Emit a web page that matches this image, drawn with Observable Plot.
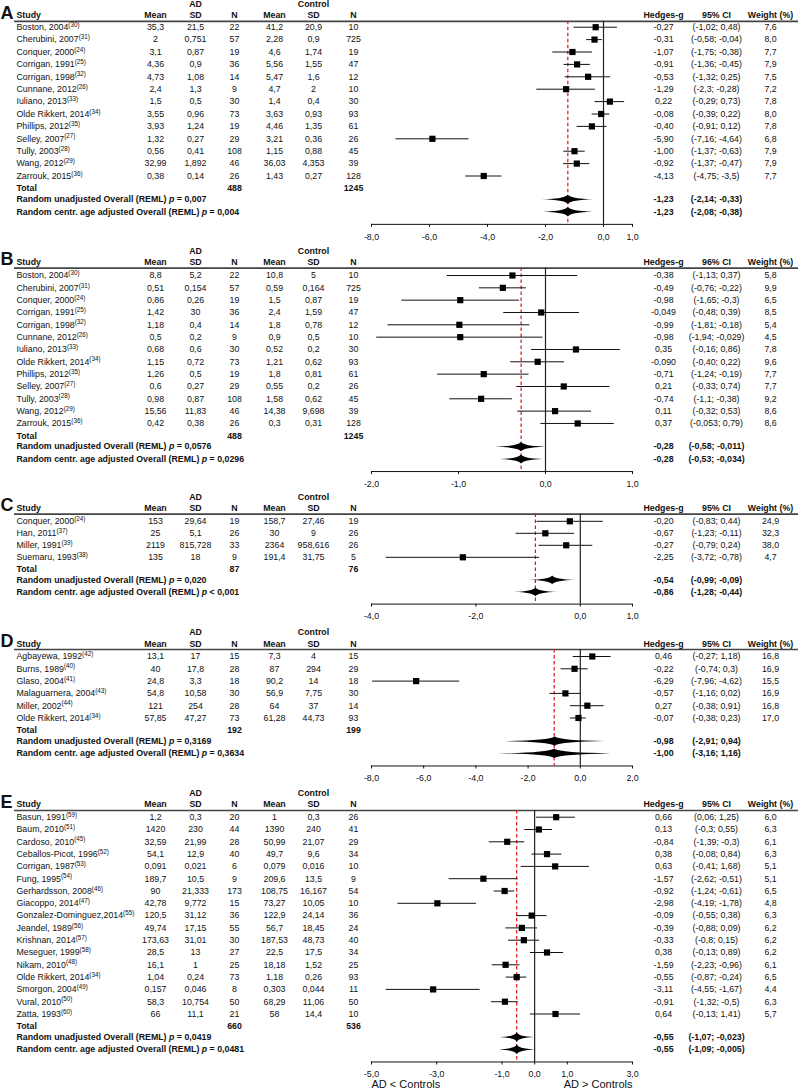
<!DOCTYPE html>
<html><head><meta charset="utf-8">
<script src="https://cdn.jsdelivr.net/npm/d3@7"></script>
<script src="https://cdn.jsdelivr.net/npm/@observablehq/plot@0.6"></script>
<style>
body{margin:0;background:#fff;}
#chart{width:799px;}
#chart svg{display:block;}
</style></head><body><div id="chart"></div>
<script>
// ---------- Panel A ----------
const studyA = ["Boston, 2004","Cherubini, 2007","Conquer, 2000","Corrigan, 1991","Corrigan, 1998","Cunnane, 2012","Iuliano, 2013","Olde Rikkert, 2014","Phillips, 2012","Selley, 2007","Tully, 2003","Wang, 2012","Zarrouk, 2015"];
const refA = ["30","31","24","25","32","26","33","34","35","27","28","29","36"];
const adMeanA = ["35,3","2","3,1","4,36","4,73","2,4","1,5","3,55","3,93","1,32","0,56","32,99","0,38"];
const adSdA = ["21,5","0,751","0,87","0,9","1,08","1,3","0,5","0,96","1,24","0,27","0,41","1,892","0,14"];
const adNA = ["22","57","19","36","14","9","30","73","19","29","108","46","26"];
const ctMeanA = ["41,2","2,28","4,6","5,56","5,47","4,7","1,4","3,63","4,46","3,21","1,15","36,03","1,43"];
const ctSdA = ["20,9","0,9","1,74","1,55","1,6","2","0,4","0,93","1,35","0,36","0,88","4,353","0,27"];
const ctNA = ["10","725","19","47","12","10","30","93","61","26","45","39","128"];
const gA = ["-0,27","-0,31","-1,07","-0,91","-0,53","-1,29","0,22","-0,08","-0,40","-5,90","-1,00","-0,92","-4,13"];
const loA = ["-1,02","-0,58","-1,75","-1,36","-1,32","-2,3","-0,29","-0,39","-0,91","-7,16","-1,37","-1,37","-4,75"];
const hiA = ["0,48","-0,04","-0,38","-0,45","0,25","-0,28","0,73","0,22","0,12","-4,64","-0,63","-0,47","-3,5"];
const wA = ["7,6","8,0","7,7","7,9","7,5","7,2","7,8","8,0","7,8","6,8","7,9","7,9","7,7"];
const totalA = ["488","1245"];
const pA = ["= 0,007","= 0,004"];
const sumGA = ["-1,23","-1,23"];
const sumLoA = ["-2,14","-2,08"];
const sumHiA = ["-0,33","-0,38"];
const ticksA = [-8,-6,-4,-2,0,1];
const domainA = [-8,1];

// ---------- Panel B ----------
const studyB = studyA;
const refB = refA;
const adMeanB = ["8,8","0,51","0,86","1,42","1,18","0,5","0,68","1,15","1,26","0,6","0,98","15,56","0,42"];
const adSdB = ["5,2","0,154","0,26","30","0,4","0,2","0,6","0,72","0,5","0,27","0,87","11,83","0,38"];
const adNB = ["22","57","19","36","14","9","30","73","19","29","108","46","26"];
const ctMeanB = ["10,8","0,59","1,5","2,4","1,8","0,9","0,52","1,21","1,8","0,55","1,58","14,38","0,3"];
const ctSdB = ["5","0,164","0,87","1,59","0,78","0,5","0,2","0,62","0,81","0,2","0,62","9,698","0,31"];
const ctNB = ["10","725","19","47","12","10","30","93","61","26","45","39","128"];
const gB = ["-0,38","-0,49","-0,98","-0,049","-0,99","-0,98","0,35","-0,090","-0,71","0,21","-0,74","0,11","0,37"];
const loB = ["-1,13","-0,76","-1,65","-0,48","-1,81","-1,94","-0,16","-0,40","-1,24","-0,33","-1,1","-0,32","-0,053"];
const hiB = ["0,37","-0,22","-0,3","0,39","-0,18","-0,029","0,86","0,22","-0,19","0,74","-0,38","0,53","0,79"];
const wB = ["5,8","9,9","6,5","8,5","5,4","4,5","7,8","9,6","7,7","7,7","9,2","8,6","8,6"];
const totalB = ["488","1245"];
const pB = ["= 0,0576","= 0,0296"];
const sumGB = ["-0,28","-0,28"];
const sumLoB = ["-0,58","-0,53"];
const sumHiB = ["-0,011","-0,034"];
const ticksB = [-2,-1,0,1];
const domainB = [-2,1];

// ---------- Panel C ----------
const studyC = ["Conquer, 2000","Han, 2011","Miller, 1991","Suemaru, 1993"];
const refC = ["24","37","39","38"];
const adMeanC = ["153","25","2119","135"];
const adSdC = ["29,64","5,1","815,728","18"];
const adNC = ["19","26","33","9"];
const ctMeanC = ["158,7","30","2364","191,4"];
const ctSdC = ["27,46","9","958,616","31,75"];
const ctNC = ["19","26","26","5"];
const gC = ["-0,20","-0,67","-0,27","-2,25"];
const loC = ["-0,83","-1,23","-0,79","-3,72"];
const hiC = ["0,44","-0,11","0,24","-0,78"];
const wC = ["24,9","32,3","38,0","4,7"];
const totalC = ["87","76"];
const pC = ["= 0,020","< 0,001"];
const sumGC = ["-0,54","-0,86"];
const sumLoC = ["-0,99","-1,28"];
const sumHiC = ["-0,09","-0,44"];
const ticksC = [-4,-2,0,1];
const domainC = [-4,1];

// ---------- Panel D ----------
const studyD = ["Agbayewa, 1992","Burns, 1989","Glaso, 2004","Malaguarnera, 2004","Miller, 2002","Olde Rikkert, 2014"];
const refD = ["42","40","41","43","44","34"];
const adMeanD = ["13,1","40","24,8","54,8","121","57,85"];
const adSdD = ["17","17,8","3,3","10,58","254","47,27"];
const adND = ["15","28","18","30","28","73"];
const ctMeanD = ["7,3","87","90,2","56,9","64","61,28"];
const ctSdD = ["4","294","14","7,75","37","44,73"];
const ctND = ["15","29","18","30","14","93"];
const gD = ["0,46","-0,22","-6,29","-0,57","0,27","-0,07"];
const loD = ["-0,27","-0,74","-7,96","-1,16","-0,38","-0,38"];
const hiD = ["1,18","0,3","-4,62","0,02","0,91","0,23"];
const wD = ["16,8","16,9","15,5","16,9","16,8","17,0"];
const totalD = ["192","199"];
const pD = ["= 0,3169","= 0,3634"];
const sumGD = ["-0,98","-1,00"];
const sumLoD = ["-2,91","-3,16"];
const sumHiD = ["0,94","1,16"];
const ticksD = [-8,-6,-4,-2,0,2];
const domainD = [-8,2];

// ---------- Panel E ----------
const studyE = ["Basun, 1991","Baum, 2010","Cardoso, 2010","Ceballos-Picot, 1996","Corrigan, 1987","Fung, 1995","Gerhardsson, 2008","Giacoppo, 2014","Gonzalez-Dominguez,2014","Jeandel, 1989","Krishnan, 2014","Meseguer, 1999","Nikam, 2010","Olde Rikkert, 2014","Smorgon, 2004","Vural, 2010","Zatta, 1993"];
const refE = ["59","51","45","52","53","54","46","47","55","56","57","58","48","34","49","50","60"];
const adMeanE = ["1,2","1420","32,59","54,1","0,091","189,7","90","42,78","120,5","49,74","173,63","28,5","16,1","1,04","0,157","58,3","66"];
const adSdE = ["0,3","230","21,99","12,9","0,021","10,5","21,333","9,772","31,12","17,15","31,01","13","1","0,24","0,046","10,754","11,1"];
const adNE = ["20","44","28","40","6","9","173","15","36","55","30","27","25","73","8","50","21"];
const ctMeanE = ["1","1390","50,99","49,7","0,079","209,6","108,75","73,27","122,9","56,7","187,53","22,5","18,18","1,18","0,303","68,29","58"];
const ctSdE = ["0,3","240","21,07","9,6","0,016","13,5","16,167","10,05","24,14","18,45","48,73","17,5","1,52","0,26","0,044","11,06","14,4"];
const ctNE = ["26","41","29","34","10","9","54","10","36","24","40","34","25","93","11","50","10"];
const gE = ["0,66","0,13","-0,84","0,38","0,63","-1,57","-0,92","-2,98","-0,09","-0,39","-0,33","0,38","-1,59","-0,55","-3,11","-0,91","0,64"];
const loE = ["0,06","-0,3","-1,39","-0,08","-0,41","-2,62","-1,24","-4,19","-0,55","-0,88","-0,8","-0,13","-2,23","-0,87","-4,55","-1,32","-0,13"];
const hiE = ["1,25","0,55","-0,3","0,84","1,68","-0,51","-0,61","-1,78","0,38","0,09","0,15","0,89","-0,96","-0,24","-1,67","-0,5","1,41"];
const wE = ["6,0","6,3","6,1","6,3","5,1","5,1","6,5","4,8","6,3","6,2","6,2","6,2","6,1","6,5","4,4","6,3","5,7"];
// marker positions as drawn in the picture (Nikam's marker is drawn away from its label)
const markGE = [0.66,0.13,-0.84,0.38,0.63,-1.57,-0.92,-2.98,-0.09,-0.39,-0.33,0.38,-0.89,-0.55,-3.11,-0.91,0.64];
const markLoE = [0.06,-0.3,-1.39,-0.08,-0.41,-2.62,-1.24,-4.19,-0.55,-0.88,-0.8,-0.13,-1.30,-0.87,-4.55,-1.32,-0.13];
const markHiE = [1.25,0.55,-0.3,0.84,1.68,-0.51,-0.61,-1.78,0.38,0.09,0.15,0.89,-0.45,-0.24,-1.67,-0.5,1.41];
const totalE = ["660","536"];
const pE = ["= 0,0419","= 0,0481"];
const sumGE = ["-0,55","-0,55"];
const sumLoE = ["-1,07","-1,09"];
const sumHiE = ["-0,023","-0,005"];
const ticksE = [-5,-3,-1,0,1,3];
const domainE = [-5,3];
const footerE = ["AD < Controls","AD > Controls"];

// ---------- layout ----------
const ML = 14;
const COL = {study:16, adMean:155, adSd:195, adN:234, ctMean:274, ctSd:313, ctN:353, g:663, ci:716, w:770};
const XR = [371, 632];
const num = s => +String(s).replace(",", ".");
const FONT = "'Liberation Sans', Arial, Helvetica, sans-serif";

// diamond outline with slightly concave sides (tip -> peak -> tip -> trough -> tip)
const curveDiamond = context => {
  let pts;
  return {
    areaStart() {}, areaEnd() {},
    lineStart() { pts = []; },
    point(x, y) { pts.push([+x, +y]); },
    lineEnd() {
      if (!pts.length) return;
      context.moveTo(pts[0][0], pts[0][1]);
      for (let i = 1; i < pts.length; i++) {
        const [ax, ay] = pts[i - 1], [bx, by] = pts[i];
        const peakX = i % 2 ? bx : ax, tipY = i % 2 ? ay : by;
        const mx = (ax + bx) / 2, my = (ay + by) / 2, f = 0.75;
        context.quadraticCurveTo(mx + (peakX - mx) * f, my + (tipY - my) * f, bx, by);
      }
      context.closePath();
    }
  };
};

function panel(cfg) {
  const n = cfg.study.length;
  const s = cfg.step;
  const yTot = n, yUn = n + 0.88, yAd = n + 1.88, yAxis = n + 2.9;
  const axisPx = cfg.row0 + yAxis * s;
  const rows = cfg.study.map((name, i) => ({
    y: i, label: `${name}^${cfg.ref[i]}`,
    adMean: cfg.adMean[i], adSd: cfg.adSd[i], adN: cfg.adN[i],
    ctMean: cfg.ctMean[i], ctSd: cfg.ctSd[i], ctN: cfg.ctN[i],
    g: cfg.g[i], ci: `(${cfg.lo[i]}; ${cfg.hi[i]})`, w: cfg.w[i],
    gx: cfg.markG ? cfg.markG[i] : num(cfg.g[i]),
    lox: cfg.markLo ? cfg.markLo[i] : num(cfg.lo[i]),
    hix: cfg.markHi ? cfg.markHi[i] : num(cfg.hi[i])
  }));
  const sums = [0, 1].map(k => ({
    y: k ? yAd : yUn,
    label: `${k ? "Random centr. age adjusted" : "Random unadjusted"} Overall (REML) ~p~ ${cfg.p[k]}`,
    g: cfg.sumG[k], ci: `(${cfg.sumLo[k]}; ${cfg.sumHi[k]})`,
    gx: num(cfg.sumG[k]), lox: num(cfg.sumLo[k]), hix: num(cfg.sumHi[k])
  }));
  const H2 = 0.37;
  const diamond = sums.flatMap((d, k) => [
    {k, x: d.lox, y: d.y},
    {k, x: d.gx, y: d.y - H2},
    {k, x: d.hix, y: d.y},
    {k, x: d.gx, y: d.y + H2},
    {k, x: d.lox, y: d.y}
  ]);
  const refX = num(cfg.sumG[1]);
  const txt = (data, key, field, o = {}) => Plot.text(data, {
    y: "y", text: field, frameAnchor: "left", dx: COL[key] - ML,
    textAnchor: key === "study" ? "start" : "middle", ...o
  });
  const one = (t, y, key, o = {}) => txt([{t, y}], key, "t", o);
  const B = {fontWeight: "bold"};
  const heads = [["Study","study"],["Mean","adMean"],["SD","adSd"],["N","adN"],["Mean","ctMean"],["SD","ctSd"],["N","ctN"],["Hedges-g","g"],[cfg.ciHead,"ci"],["Weight (%)","w"]];
  const marks = [
    Plot.ruleY([cfg.line], {stroke: "#444", strokeWidth: 1.6}),
    Plot.ruleX([0], {y1: cfg.line, y2: yAxis, stroke: "#222", strokeWidth: 1.2}),
    Plot.ruleX([refX], {y1: cfg.line, y2: yAxis, stroke: "#e3141b", strokeWidth: 1.2, strokeDasharray: "3.5,2.5"}),
    Plot.ruleY(rows, {y: "y", x1: "lox", x2: "hix", stroke: "#111", strokeWidth: 1}),
    Plot.dot(rows, {x: "gx", y: "y", symbol: "square", r: 3.5, fill: "#000", stroke: "none"}),
    Plot.line(diamond, {x: "x", y: "y", z: "k", fill: "#000", stroke: "none", curve: curveDiamond}),
    Plot.ruleY([yAxis], {x1: cfg.domain[0], x2: cfg.domain[1], stroke: "#111", strokeWidth: 1}),
    // headers
    one("AD", cfg.ad, "adSd", B),
    one("Control", cfg.ad, "ctSd", B),
    ...heads.map(([t, k]) => one(t, cfg.hdr, k, B)),
    // rows
    txt(rows, "study", "label"),
    ...["adMean","adSd","adN","ctMean","ctSd","ctN","g","ci","w"].map(k => txt(rows, k, k)),
    // total + summary
    one("Total", yTot, "study", B),
    one(cfg.total[0], yTot, "adN", B),
    one(cfg.total[1], yTot, "ctN", B),
    txt(sums, "study", "label", B),
    txt(sums, "g", "g", B),
    txt(sums, "ci", "ci", B),
    // panel letter
    Plot.text([cfg.letter], {y: () => cfg.hdr, text: d => d, frameAnchor: "left", dx: -ML, textAnchor: "start", lineAnchor: "bottom", dy: 3.5, fontSize: 18, fontWeight: "bold"})
  ];
  if (cfg.footer) {
    marks.push(Plot.text([cfg.footer[0]], {x: () => cfg.domain[0], y: () => yAxis + 1.8, text: d => d, textAnchor: "start", fontSize: 11}));
    marks.push(Plot.text([cfg.footer[1]], {x: () => cfg.domain[1], y: () => yAxis + 1.8, text: d => d, textAnchor: "end", fontSize: 11}));
  }
  const svg = Plot.plot({
    width: 799, height: cfg.H,
    marginTop: 0, marginLeft: ML, marginRight: 1, marginBottom: cfg.H - axisPx,
    x: {domain: cfg.domain, range: XR, ticks: cfg.ticks, tickFormat: d => d.toFixed(1).replace(".", ","), tickSize: 3, label: null},
    y: {domain: [0, 1], range: [cfg.row0, cfg.row0 + s], axis: null},
    style: {fontFamily: FONT, fontSize: "8.8px", color: "#111", background: "#fff", overflow: "visible"},
    marks
  });
  richify(svg);
  return svg;
}

function richify(svg) {
  const NS = "http://www.w3.org/2000/svg";
  svg.querySelectorAll("text").forEach(t => {
    const str = t.textContent;
    if (!str.includes("^") && !str.includes("~")) return;
    const [main, sup] = str.split("^");
    t.textContent = "";
    main.split("~").forEach((seg, k) => {
      if (!seg) return;
      const ts = document.createElementNS(NS, "tspan");
      ts.textContent = seg;
      if (k % 2) ts.setAttribute("font-style", "italic");
      t.appendChild(ts);
    });
    if (sup) {
      const ts = document.createElementNS(NS, "tspan");
      ts.setAttribute("font-size", "6.3px");
      ts.setAttribute("dy", "-0.5em");
      ts.textContent = `(${sup})`;
      t.appendChild(ts);
    }
  });
}

const panels = [
  {letter:"A", study:studyA, ref:refA, adMean:adMeanA, adSd:adSdA, adN:adNA, ctMean:ctMeanA, ctSd:ctSdA, ctN:ctNA, g:gA, lo:loA, hi:hiA, w:wA, total:totalA, p:pA, sumG:sumGA, sumLo:sumLoA, sumHi:sumHiA, ticks:ticksA, domain:domainA, ciHead:"95% CI", H:240, row0:26.7, step:12.4, hdr:-0.95, ad:-1.85, line:-0.47},
  {letter:"B", study:studyB, ref:refB, adMean:adMeanB, adSd:adSdB, adN:adNB, ctMean:ctMeanB, ctSd:ctSdB, ctN:ctNB, g:gB, lo:loB, hi:hiB, w:wB, total:totalB, p:pB, sumG:sumGB, sumLo:sumLoB, sumHi:sumHiB, ticks:ticksB, domain:domainB, ciHead:"96% CI", H:246, row0:35, step:12.33, hdr:-1.1, ad:-1.97, line:-0.6},
  {letter:"C", study:studyC, ref:refC, adMean:adMeanC, adSd:adSdC, adN:adNC, ctMean:ctMeanC, ctSd:ctSdC, ctN:ctNC, g:gC, lo:loC, hi:hiC, w:wC, total:totalC, p:pC, sumG:sumGC, sumLo:sumLoC, sumHi:sumHiC, ticks:ticksC, domain:domainC, ciHead:"95% CI", H:136, row0:34.8, step:12.0, hdr:-1.12, ad:-2.0, line:-0.6},
  {letter:"D", study:studyD, ref:refD, adMean:adMeanD, adSd:adSdD, adN:adND, ctMean:ctMeanD, ctSd:ctSdD, ctN:ctND, g:gD, lo:loD, hi:hiD, w:wD, total:totalD, p:pD, sumG:sumGD, sumLo:sumLoD, sumHi:sumHiD, ticks:ticksD, domain:domainD, ciHead:"95% CI", H:161, row0:34, step:12.3, hdr:-1.03, ad:-1.97, line:-0.57},
  {letter:"E", study:studyE, ref:refE, adMean:adMeanE, adSd:adSdE, adN:adNE, ctMean:ctMeanE, ctSd:ctSdE, ctN:ctNE, g:gE, lo:loE, hi:hiE, w:wE, total:totalE, p:pE, sumG:sumGE, sumLo:sumLoE, sumHi:sumHiE, ticks:ticksE, domain:domainE, ciHead:"95% CI", H:307, row0:33.7, step:12.3, hdr:-1.03, ad:-1.97, line:-0.55, markG:markGE, markLo:markLoE, markHi:markHiE, footer:footerE}
];

const root = document.getElementById("chart");
panels.forEach(cfg => root.append(panel(cfg)));
</script>
</body></html>
